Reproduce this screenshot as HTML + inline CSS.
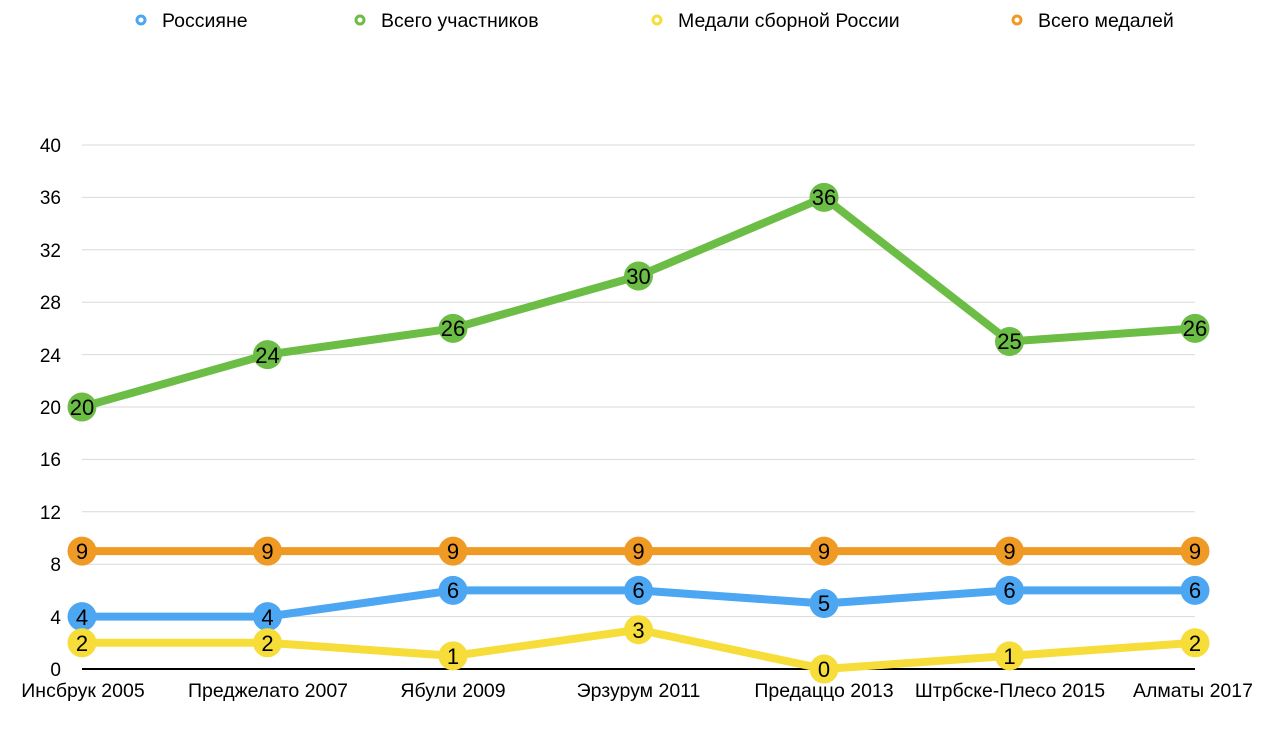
<!DOCTYPE html>
<html><head><meta charset="utf-8"><style>
body{margin:0;background:#fff;}
svg text{font-family:"Liberation Sans",sans-serif;}
</style></head><body>
<svg width="1280" height="743" viewBox="0 0 1280 743" xmlns="http://www.w3.org/2000/svg">
<g font-size="19.5" fill="#000">
<circle cx="141" cy="20" r="4" fill="none" stroke="#4da6f2" stroke-width="3"/><text x="162" y="27">Россияне</text>
<circle cx="360" cy="20" r="4" fill="none" stroke="#6cbd45" stroke-width="3"/><text x="381" y="27">Всего участников</text>
<circle cx="657" cy="20" r="4" fill="none" stroke="#f6dd3a" stroke-width="3"/><text x="678" y="27">Медали сборной России</text>
<circle cx="1017" cy="20" r="4" fill="none" stroke="#f09a26" stroke-width="3"/><text x="1038" y="27">Всего медалей</text>
</g>
<g stroke="#d9d9d9" stroke-width="1">
<line x1="82" x2="1195" y1="145" y2="145"/><line x1="82" x2="1195" y1="197.4" y2="197.4"/>
<line x1="82" x2="1195" y1="249.8" y2="249.8"/><line x1="82" x2="1195" y1="302.2" y2="302.2"/>
<line x1="82" x2="1195" y1="354.6" y2="354.6"/><line x1="82" x2="1195" y1="407" y2="407"/>
<line x1="82" x2="1195" y1="459.4" y2="459.4"/><line x1="82" x2="1195" y1="511.8" y2="511.8"/>
<line x1="82" x2="1195" y1="564.2" y2="564.2"/><line x1="82" x2="1195" y1="616.6" y2="616.6"/>
</g>
<line x1="82" x2="1195" y1="669" y2="669" stroke="#000" stroke-width="2"/>
<g font-size="19" text-anchor="end">
<text x="61" y="152">40</text><text x="61" y="204">36</text><text x="61" y="257">32</text>
<text x="61" y="309">28</text><text x="61" y="362">24</text><text x="61" y="414">20</text>
<text x="61" y="466">16</text><text x="61" y="519">12</text><text x="61" y="571">8</text>
<text x="61" y="624">4</text><text x="61" y="676">0</text>
</g>
<g font-size="19.5" text-anchor="middle">
<text x="83" y="697">Инсбрук 2005</text><text x="268" y="697">Преджелато 2007</text>
<text x="453" y="697">Ябули 2009</text><text x="638.5" y="697">Эрзурум 2011</text>
<text x="824" y="697">Предаццо 2013</text><text x="1010" y="697">Штрбске-Плесо 2015</text>
<text x="1193" y="697">Алматы 2017</text>
</g>
<g fill="none" stroke-width="8" stroke-linejoin="round">
<polyline stroke="#6cbd45" points="82,407 267.5,354.6 453,328.4 638.5,276 824,197.4 1009.5,341.5 1195,328.4"/>
<polyline stroke="#f09a26" points="82,551.1 1195,551.1"/>
<polyline stroke="#4da6f2" points="82,616.6 267.5,616.6 453,590.4 638.5,590.4 824,603.5 1009.5,590.4 1195,590.4"/>
<polyline stroke="#f6dd3a" points="82,642.8 267.5,642.8 453,655.9 638.5,629.7 824,669 1009.5,655.9 1195,642.8"/>
</g>
<g font-size="22" text-anchor="middle">
<g fill="#6cbd45">
<circle cx="82" cy="407" r="14.5"/><circle cx="267.5" cy="354.6" r="14.5"/><circle cx="453" cy="328.4" r="14.5"/><circle cx="638.5" cy="276" r="14.5"/><circle cx="824" cy="197.4" r="14.5"/><circle cx="1009.5" cy="341.5" r="14.5"/><circle cx="1195" cy="328.4" r="14.5"/>
</g>
<text x="82" y="415">20</text><text x="267.5" y="363">24</text><text x="453" y="336">26</text><text x="638.5" y="284">30</text><text x="824" y="205">36</text><text x="1009.5" y="349">25</text><text x="1195" y="336">26</text>
<g fill="#f09a26">
<circle cx="82" cy="551.1" r="14.5"/><circle cx="267.5" cy="551.1" r="14.5"/><circle cx="453" cy="551.1" r="14.5"/><circle cx="638.5" cy="551.1" r="14.5"/><circle cx="824" cy="551.1" r="14.5"/><circle cx="1009.5" cy="551.1" r="14.5"/><circle cx="1195" cy="551.1" r="14.5"/>
</g>
<text x="82" y="559">9</text><text x="267.5" y="559">9</text><text x="453" y="559">9</text><text x="638.5" y="559">9</text><text x="824" y="559">9</text><text x="1009.5" y="559">9</text><text x="1195" y="559">9</text>
<g fill="#4da6f2">
<circle cx="82" cy="616.6" r="14.5"/><circle cx="267.5" cy="616.6" r="14.5"/><circle cx="453" cy="590.4" r="14.5"/><circle cx="638.5" cy="590.4" r="14.5"/><circle cx="824" cy="603.5" r="14.5"/><circle cx="1009.5" cy="590.4" r="14.5"/><circle cx="1195" cy="590.4" r="14.5"/>
</g>
<text x="82" y="625">4</text><text x="267.5" y="625">4</text><text x="453" y="598">6</text><text x="638.5" y="598">6</text><text x="824" y="611">5</text><text x="1009.5" y="598">6</text><text x="1195" y="598">6</text>
<g fill="#f6dd3a">
<circle cx="82" cy="642.8" r="14.5"/><circle cx="267.5" cy="642.8" r="14.5"/><circle cx="453" cy="655.9" r="14.5"/><circle cx="638.5" cy="629.7" r="14.5"/><circle cx="824" cy="669" r="14.5"/><circle cx="1009.5" cy="655.9" r="14.5"/><circle cx="1195" cy="642.8" r="14.5"/>
</g>
<text x="82" y="651">2</text><text x="267.5" y="651">2</text><text x="453" y="664">1</text><text x="638.5" y="638">3</text><text x="824" y="677">0</text><text x="1009.5" y="664">1</text><text x="1195" y="651">2</text>
</g>
</svg>
</body></html>
